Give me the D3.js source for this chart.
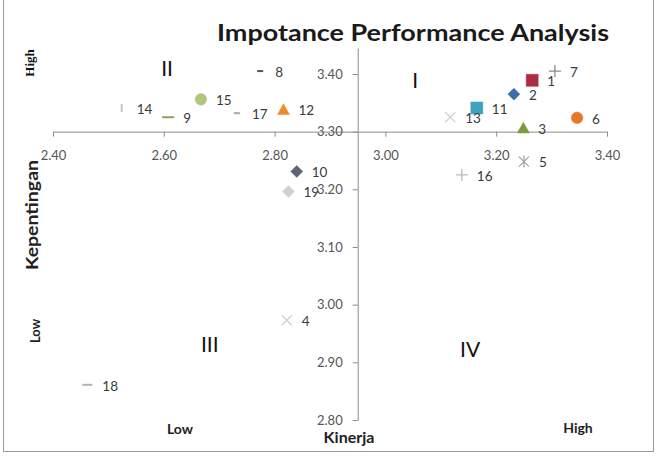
<!DOCTYPE html>
<html><head><meta charset="utf-8">
<script src="https://cdn.jsdelivr.net/npm/d3@7"></script>
<style>body{margin:0;background:#fff}svg{display:block}</style>
</head><body>
<svg id="c" width="658" height="458"></svg>
<script>
// ---- data ----
const pointIds    = ["1","2","3","4","5","6","7","8","9","10","11","12","13","14","15","16","17","18","19"];
const kinerja     = [3.265,3.232,3.249,2.822,3.250,3.346,3.306,2.774,2.608,2.840,3.165,2.816,3.117,2.524,2.667,3.138,2.732,2.462,2.825];
const kepentingan = [3.389,3.365,3.306,2.973,3.248,3.324,3.405,3.405,3.325,3.231,3.341,3.338,3.325,3.341,3.356,3.225,3.332,2.861,3.196];
const xTickValues = [2.40,2.60,2.80,3.00,3.20,3.40];
const yTickValues = [2.80,2.90,3.00,3.10,3.20,3.30,3.40];
const titleText = "Impotance Performance Analysis";
const quadrantNames = ["I","II","III","IV"];
const quadrantAt = [[3.054,3.376],[2.606,3.397],[2.683,2.918],[3.153,2.909]];
const xCross = 2.95, yCross = 3.30;

// ---- styles (separate from data) ----
const markerStyle = {
  "1":{shape:"square",s:6,c:"#AE2C44"},
  "2":{shape:"diamond",s:6,c:"#3F6DAA"},
  "3":{shape:"triangle",s:6,c:"#7A9A3C"},
  "4":{shape:"x",s:5,c:"#CFCFCF"},
  "5":{shape:"asterisk",s:5,c:"#A6A6A6"},
  "6":{shape:"circle",s:5.8,c:"#E6772E"},
  "7":{shape:"plus",s:6,c:"#8C8C8C"},
  "8":{shape:"dash",s:3,c:"#555555"},
  "9":{shape:"dash",s:6,c:"#8FA05A"},
  "10":{shape:"diamond",s:6,c:"#5E6375"},
  "11":{shape:"square",s:6,c:"#3DA3BE"},
  "12":{shape:"triangle",s:6,c:"#EE8A2A"},
  "13":{shape:"x",s:5,c:"#D2D2D2"},
  "14":{shape:"bar",s:4,c:"#C4C4C4"},
  "15":{shape:"circle",s:5.8,c:"#AFC67A"},
  "16":{shape:"plus",s:6,c:"#BBBBBB"},
  "17":{shape:"dash",s:3,c:"#A8A8A8"},
  "18":{shape:"dash",s:5,c:"#B4B4B4"},
  "19":{shape:"diamond",s:6,c:"#D0D0D0"}
};
const filled = new Set(["square","diamond","triangle","circle"]);
function markerPath(shape, s){
  switch(shape){
    case "square": return `M${-s},${-s}H${s}V${s}H${-s}Z`;
    case "diamond": return `M0,${-s}L${s},0L0,${s}L${-s},0Z`;
    case "triangle": return `M0,${-s}L${s},${s*0.8}L${-s},${s*0.8}Z`;
    case "circle": return d3.symbol(d3.symbolCircle, Math.PI*s*s)();
    case "x": return `M${-s},${-s}L${s},${s}M${-s},${s}L${s},${-s}`;
    case "plus": return `M${-s},0H${s}M0,${-s}V${s}`;
    case "asterisk": return `M${-s},${-s}L${s},${s}M${-s},${s}L${s},${-s}M0,${-s-1}V${s+1}`;
    case "dash": return `M${-s},0H${s}`;
    case "bar": return `M0,${-s}V${s}`;
  }
}

const svg = d3.select("#c");
const font = "Lato, 'Open Sans', 'Liberation Sans', sans-serif";

// frame
svg.append("rect").attr("x",3.5).attr("y",-3).attr("width",650).attr("height",454.5)
  .attr("fill","#fff").attr("stroke","#9a9a9a").attr("stroke-width",1);

const x = d3.scaleLinear().domain([2.40,3.40]).range([53,607]);
const y = d3.scaleLinear().domain([2.80,3.445]).range([420,48]);

// axes
const xAxis = svg.append("g").attr("transform",`translate(0,${y(yCross)})`)
  .call(d3.axisBottom(x).tickValues(xTickValues).tickFormat(d3.format(".2f"))
    .tickSizeInner(5).tickSizeOuter(0).tickPadding(14));
const yAxis = svg.append("g").attr("transform",`translate(${x(xCross)},0)`)
  .call(d3.axisLeft(y).tickValues(yTickValues).tickFormat(d3.format(".2f"))
    .tickSizeInner(5).tickSizeOuter(0).tickPadding(10));
[xAxis,yAxis].forEach(g=>{
  g.select(".domain").attr("stroke","#8c8c8c");
  g.selectAll(".tick line").attr("stroke","#8c8c8c");
  g.selectAll(".tick text").attr("fill","#555").style("font-family",font).style("font-size","13px");
});

// title
svg.append("text").attr("x",413).attr("y",41).attr("text-anchor","middle")
  .attr("textLength",392).attr("lengthAdjust","spacingAndGlyphs")
  .style("font-family",font).style("font-weight","bold").style("font-size","23px")
  .attr("fill","#1a1a1a").text(titleText);

// points
const pts = pointIds.map((id,i)=>({id, kx:kinerja[i], ky:kepentingan[i]}));
const pg = svg.append("g").selectAll("g").data(pts).join("g")
  .attr("transform",d=>`translate(${x(d.kx)},${y(d.ky)})`);
pg.append("path").attr("d",d=>markerPath(markerStyle[d.id].shape, markerStyle[d.id].s))
  .attr("fill",d=>filled.has(markerStyle[d.id].shape)?markerStyle[d.id].c:"none")
  .attr("stroke",d=>markerStyle[d.id].c)
  .attr("stroke-width",d=>filled.has(markerStyle[d.id].shape)?0.5:(markerStyle[d.id].shape==="dash"||markerStyle[d.id].shape==="bar"?2:1.3));
pg.append("text").attr("x",15).attr("y",1).attr("dy","0.35em")
  .style("font-family",font).style("font-size","13.5px").attr("fill","#3a3a3a")
  .text(d=>d.id);

// quadrant labels
svg.append("g").selectAll("text").data(quadrantNames).join("text")
  .attr("x",(d,i)=>x(quadrantAt[i][0])).attr("y",(d,i)=>y(quadrantAt[i][1]))
  .attr("text-anchor","middle").style("font-family",font).style("font-size","21px")
  .attr("fill","#111").text(d=>d);

// axis titles / low-high markers
svg.append("text").attr("transform","translate(34,63) rotate(-90)").attr("text-anchor","middle")
  .style("font-family","'Liberation Serif', 'DejaVu Serif', serif").style("font-weight","bold")
  .style("font-size","13px").attr("fill","#111").text("High");
svg.append("text").attr("transform","translate(38,215) rotate(-90)").attr("text-anchor","middle")
  .attr("textLength",110).attr("lengthAdjust","spacingAndGlyphs")
  .style("font-family",font).style("font-weight","bold").style("font-size","17px")
  .attr("fill","#222").text("Kepentingan");
svg.append("text").attr("transform","translate(40,331) rotate(-90)").attr("text-anchor","middle")
  .style("font-family",font).style("font-weight","bold").style("font-size","13px")
  .attr("fill","#222").text("Low");
svg.append("text").attr("x",180).attr("y",434).attr("text-anchor","middle")
  .style("font-family",font).style("font-weight","bold").style("font-size","14px")
  .attr("fill","#222").text("Low");
svg.append("text").attr("x",349).attr("y",443).attr("text-anchor","middle")
  .style("font-family",font).style("font-weight","bold").style("font-size","16px")
  .attr("fill","#222").text("Kinerja");
svg.append("text").attr("x",578).attr("y",433).attr("text-anchor","middle")
  .style("font-family",font).style("font-weight","bold").style("font-size","14px")
  .attr("fill","#222").text("High");
</script>
</body></html>
